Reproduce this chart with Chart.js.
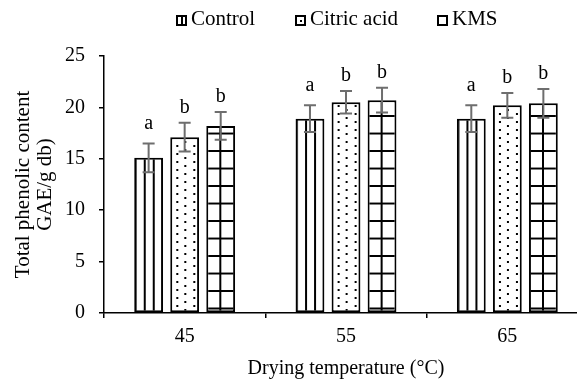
<!DOCTYPE html>
<html>
<head>
<meta charset="utf-8">
<script src="https://cdn.jsdelivr.net/npm/chart.js@4.4.0/dist/chart.umd.min.js"></script>
<style>
  html, body { margin: 0; padding: 0; background: #fff; overflow: hidden; }
  #wrap { position: relative; width: 577px; height: 379px; overflow: hidden; }
  #legend { position: absolute; top: 0; left: 0; width: 577px; height: 40px;
    font: 21px "Liberation Serif", "Times New Roman", serif; color: #000; }
  .box { position: absolute; top: 15px; width: 7px; height: 7px; border: 2px solid #000; background: #fff no-repeat center; }
  .txt { position: absolute; top: 8px; line-height: 21px; white-space: nowrap; }
  canvas { position: absolute; left: 0; top: 0; }
</style>
</head>
<body>
<div id="wrap">
  <canvas id="chart" width="600" height="379"></canvas>
  <div id="legend">
    <span class="box" style="left:176px;background-image:linear-gradient(#000,#000);background-size:2px 100%"></span>
    <span class="txt" style="left:191px">Control</span>
    <span class="box" style="left:295px;background-image:linear-gradient(#000,#000);background-size:2px 2px"></span>
    <span class="txt" style="left:310px">Citric acid</span>
    <span class="box" style="left:437px"></span>
    <span class="txt" style="left:452px">KMS</span>
  </div>
</div>
<script>
// values
const temps = ["45", "55", "65"];
const control = [15.1, 18.9, 18.9];
const citric = [17.1, 20.5, 20.2];
const kms = [18.2, 20.7, 20.4];
const controlErr = [1.4, 1.3, 1.3];
const citricErr = [1.4, 1.1, 1.2];
const kmsErr = [1.35, 1.2, 1.4];
const controlSig = ["a", "a", "a"];
const citricSig = ["b", "b", "b"];
const kmsSig = ["b", "b", "b"];
const yMax = 25;
const yStep = 5;

const CAT_PCT = 0.67;
const BAR_PCT = 0.8;
const serif = '"Liberation Serif", "Times New Roman", serif';

function makeTile(w, h, draw) {
  const c = document.createElement("canvas");
  c.width = w;
  c.height = h;
  const g = c.getContext("2d");
  g.fillStyle = "#fff";
  g.fillRect(0, 0, w, h);
  g.fillStyle = "#000";
  draw(g);
  return c;
}

const stripeTile = makeTile(9, 4, (g) => g.fillRect(0, 0, 2, 4));
const dotTile = makeTile(17, 8, (g) => {
  g.fillRect(6, 0, 2, 2);
  g.fillRect(14, 4, 2, 2);
});
const gridTile = makeTile(29, 18, (g) => {
  g.fillRect(0, 0, 29, 2);
  g.fillRect(13, 0, 2, 18);
});

// one pattern per bar, lined up with the bar's left edge and the baseline
function patternFill(tile, dx, dy, sy) {
  return (ctx) => {
    const chart = ctx.chart;
    const pat = chart.ctx.createPattern(tile, "repeat");
    if (ctx.type !== "data" || !chart.scales.x) return pat;
    const xs = chart.scales.x;
    const ys = chart.scales.y;
    const catW = xs.width / temps.length;
    const slot = (catW * CAT_PCT) / 3;
    const barW = slot * BAR_PCT;
    const cx = xs.getPixelForValue(ctx.dataIndex) + (ctx.datasetIndex - 1) * slot;
    const left = cx - barW / 2;
    const base = ys.getPixelForValue(0);
    pat.setTransform(new DOMMatrix([1, 0, 0, sy, left + dx, base + dy]));
    return pat;
  };
}

const errorBars = {
  id: "errorBars",
  afterDatasetsDraw(chart) {
    const g = chart.ctx;
    const ys = chart.scales.y;
    chart.data.datasets.forEach((ds, i) => {
      const meta = chart.getDatasetMeta(i);
      meta.data.forEach((bar, j) => {
        const v = ds.data[j];
        const e = ds.err[j];
        const top = ys.getPixelForValue(v + e);
        const bot = ys.getPixelForValue(v - e);
        g.save();
        g.strokeStyle = "#6e6e6e";
        g.lineWidth = 2;
        g.beginPath();
        g.moveTo(bar.x, top);
        g.lineTo(bar.x, bot);
        g.moveTo(bar.x - 6, top);
        g.lineTo(bar.x + 6, top);
        g.moveTo(bar.x - 6, bot);
        g.lineTo(bar.x + 6, bot);
        g.stroke();
        g.fillStyle = "#000";
        g.font = "20px " + serif;
        g.textAlign = "center";
        g.textBaseline = "alphabetic";
        g.fillText(ds.sig[j], bar.x, top - (ds.sig[j] === "a" ? 14 : 10));
        g.restore();
      });
    });
  },
};

new Chart(document.getElementById("chart"), {
  type: "bar",
  data: {
    labels: temps,
    datasets: [
      {
        label: "Control",
        data: control,
        err: controlErr,
        sig: controlSig,
        backgroundColor: patternFill(stripeTile, 0.5, 0, 1),
      },
      {
        label: "Citric acid",
        data: citric,
        err: citricErr,
        sig: citricSig,
        backgroundColor: patternFill(dotTile, 0, 0, 1),
      },
      {
        label: "KMS",
        data: kms,
        err: kmsErr,
        sig: kmsSig,
        backgroundColor: patternFill(gridTile, 0, -5.5, 17.5 / 18),
      },
    ],
  },
  options: {
    responsive: false,
    animation: false,
    devicePixelRatio: 1,
    categoryPercentage: CAT_PCT,
    barPercentage: BAR_PCT,
    layout: { padding: { top: 56, right: 12, left: 0, bottom: 0 } },
    elements: {
      bar: { borderColor: "#000", borderWidth: 2, borderSkipped: false },
    },
    plugins: {
      legend: { display: false },
      tooltip: { enabled: false },
    },
    scales: {
      x: {
        offset: true,
        afterFit: (s) => { s.height = 66; },
        border: { color: "#000", width: 1.5 },
        grid: { drawOnChartArea: false, drawTicks: true, tickLength: 5, color: "#000", lineWidth: 1.5, offset: true },
        ticks: { color: "#000", font: { family: serif, size: 20 }, padding: 7 },
        title: {
          display: true,
          text: "Drying temperature (°C)",
          color: "#000",
          font: { family: serif, size: 20, lineHeight: 1 },
          padding: { top: 0, bottom: 0 },
        },
      },
      y: {
        min: 0,
        max: yMax,
        afterFit: (s) => { s.width = 104; },
        border: { color: "#000", width: 1.5 },
        grid: { drawOnChartArea: false, drawTicks: true, tickLength: 5, color: "#000", lineWidth: 1.5 },
        ticks: { stepSize: yStep, color: "#000", font: { family: serif, size: 20 }, padding: 14 },
        title: {
          display: true,
          text: ["Total phenolic content", "GAE/g db)"],
          color: "#000",
          font: { family: serif, size: 21, lineHeight: 1.05 },
          padding: { top: 12, bottom: 0 },
        },
      },
    },
  },
  plugins: [errorBars],
});
</script>
</body>
</html>
